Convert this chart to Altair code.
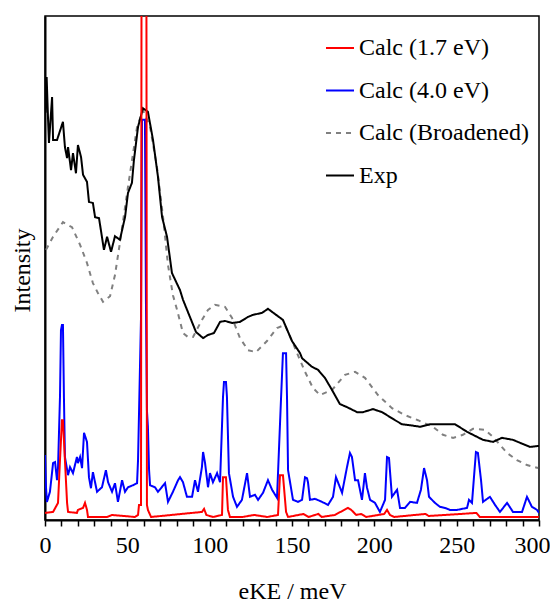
import altair as alt
import pandas as pd

# ---------------- data ----------------
exp_x = [0.3, 1.0, 1.8, 2.4, 4.3, 4.9, 7.3, 10.9, 12.1, 13.4, 14.0, 15.8, 17.0, 18.8, 20.0,
         21.9, 23.1, 25.5, 26.7, 29.1, 30.4, 32.8, 35.8, 37.7, 40.1, 42.5, 45.5, 48.6, 50.4,
         52.8, 54.0, 56.5, 59.5, 62.5, 65.6, 68.6, 71.1, 74.1, 77.1, 82.0, 83.8, 91.7, 96.0,
         99.0, 102.6, 106.3, 109.3, 113.6, 118.4, 123.3, 126.3, 131.8, 135.4, 144.5, 150.0,
         154.9, 156.1, 162.1, 165.8, 170.0, 174.3, 179.1, 183.4, 189.5, 193.1, 199.2, 204.7,
         212.6, 216.8, 221.7, 227.8, 233.9, 249.0, 256.3, 266.0, 272.1, 277.5, 284.2, 294.5, 300.0]
exp_y = [80.8, 87.9, 80.0, 74.8, 83.9, 75.4, 75.4, 79.0, 74.0, 71.8, 74.0, 69.4, 72.8, 68.8, 74.4,
         72.0, 68.5, 67.1, 63.1, 62.9, 60.1, 59.9, 53.6, 56.2, 53.2, 56.3, 55.6, 60.1, 64.9,
         66.9, 71.4, 78.0, 81.7, 81.0, 75.4, 68.1, 60.1, 56.2, 49.0, 45.6, 43.7, 37.3, 36.1,
         36.7, 37.1, 39.3, 39.5, 39.1, 39.3, 40.3, 40.7, 41.1, 41.9, 39.7, 35.5,
         33.1, 32.1, 30.4, 29.8, 28.2, 25.8, 23.0, 22.4, 21.4, 21.4, 22.0, 21.4,
         19.8, 19.0, 18.8, 18.5, 19.0, 19.0, 17.5, 15.9, 15.5, 16.3, 15.9, 14.5, 14.7]

brd_x = [0.6, 4.9, 10.9, 16.4, 21.3, 25.5, 29.1, 32.2, 35.2, 39.5, 42.5, 45.5, 50.4, 55.9, 59.5,
         63.8, 68.0, 71.7, 74.7, 77.7, 80.2, 83.8, 86.8, 89.9, 95.3, 99.0, 103.2, 109.3, 113.6,
         118.4, 123.3, 128.1, 134.8, 140.9, 145.7, 150.6, 153.6, 157.9, 162.7, 167.0, 174.3,
         182.2, 188.3, 194.3, 202.2, 210.7, 218.6, 226.5, 235.6, 241.7, 247.8, 253.8, 259.9,
         267.2, 272.1, 280.6, 286.6, 292.7, 299.4]
brd_y = [53.6, 56.2, 59.1, 58.1, 54.6, 51.0, 47.0, 45.0, 43.3, 44.4, 48.6, 55.0, 66.1, 78.0, 81.3,
         78.0, 70.0, 60.1, 50.6, 44.6, 41.7, 37.1, 36.3, 36.3, 39.7, 41.7, 42.7, 42.3, 40.1,
         36.1, 33.7, 33.3, 35.5, 38.1, 38.7, 35.1, 32.7, 29.4, 26.2, 24.8, 25.8,
         28.8, 29.4, 28.2, 24.8, 22.2, 20.8, 19.8, 18.5, 16.9, 16.3, 16.9, 18.1,
         17.9, 16.5, 13.3, 11.9, 10.9, 10.3]

blue_x = [0.0, 0.6, 1.2, 3.0, 4.9, 6.1, 7.3, 7.9, 9.1, 9.7, 10.3, 10.9, 11.5, 12.1, 14.0, 15.2,
          17.0, 19.4, 20.0, 21.3, 22.5, 23.7, 25.5, 26.7, 27.9, 29.1, 31.6, 34.6, 37.0, 38.3,
          40.7, 42.5, 44.3, 46.8, 48.6, 50.4, 53.4, 55.9, 56.5, 58.3, 58.9, 60.7, 61.3, 61.9,
          62.5, 63.2, 63.8, 66.8, 68.6, 72.9, 74.7, 77.7, 80.8, 82.0, 83.8, 86.2, 89.3, 91.1,
          92.9, 95.3, 96.0, 97.2, 99.0, 100.2, 102.0, 104.5, 106.3, 108.1, 108.7, 109.9, 110.5,
          111.7, 114.2, 116.6, 119.6, 122.7, 124.5, 127.5, 129.4, 132.4, 135.4, 137.9, 140.9,
          143.3, 144.5, 146.4, 147.0, 147.6, 150.6, 153.6, 156.1, 157.9, 159.1, 159.7, 160.9,
          164.0, 168.2, 171.9, 174.9, 176.7, 177.9, 180.4, 183.4, 185.2, 186.4, 188.3, 190.1,
          192.5, 194.3, 195.5, 197.4, 200.4, 203.4, 206.5, 207.7, 208.9, 210.7, 213.8, 215.6,
          218.6, 221.7, 225.9, 228.3, 230.2, 232.0, 233.2, 236.8, 239.9, 242.9, 245.9, 250.2,
          256.3, 257.5, 259.3, 261.7, 262.9, 264.8, 266.0, 270.2, 273.3, 276.3, 280.6, 284.2,
          289.7, 292.7, 295.7, 298.8, 300.0]
blue_y = [12.9, 6.5, 3.6, 5.6, 11.3, 11.5, 7.9, 10.3, 24.4, 37.7, 38.7, 38.7, 24.4, 12.5, 8.9, 10.5,
          9.3, 12.5, 11.3, 12.5, 10.3, 17.3, 15.5, 8.5, 6.3, 9.5, 5.6, 6.5, 9.9, 7.5,
          5.6, 7.3, 3.6, 7.9, 5.6, 6.5, 6.9, 7.3, 11.9, 40.0, 79.4, 79.4, 43.6, 21.8,
          18.5, 9.9, 6.9, 6.5, 5.6, 7.3, 3.6, 5.6, 7.9, 8.5, 7.5, 4.6, 4.6, 7.9,
          5.6, 10.5, 13.5, 11.3, 6.5, 9.3, 7.5, 9.3, 7.5, 24.4, 27.4, 27.4, 24.4,
          9.3, 4.6, 2.6, 4.0, 9.3, 4.6, 5.0, 4.0, 5.4, 7.9, 6.0, 4.4,
          23.8, 33.1, 33.1, 23.8, 9.9, 4.0, 3.6, 4.0, 8.5, 8.3, 7.5, 4.0,
          4.2, 3.6, 3.0, 4.6, 8.5, 7.5, 5.4, 10.5, 13.3, 12.5, 7.9, 7.9,
          4.0, 9.3, 6.5, 4.0, 3.4, 1.6, 4.0, 12.5, 12.3, 4.6, 6.0, 2.4,
          2.4, 3.6, 3.4, 6.0, 10.3, 7.9, 4.6, 3.4, 2.6, 2.4, 2.0, 2.0,
          2.4, 4.0, 3.4, 13.5, 13.3, 7.9, 3.6, 4.6, 3.0, 1.6, 3.4, 1.6,
          1.6, 4.6, 2.6, 2.0, 1.4]

red_x = [0.0, 4.9, 7.9, 9.1, 10.3, 10.9, 12.1, 13.4, 14.0, 19.4, 20.0, 23.1, 24.3, 25.5, 26.1,
         37.7, 40.7, 54.6, 56.5, 57.1, 58.3, 58.9, 61.3, 61.9, 62.5, 64.4, 95.3, 96.6, 98.0,
         102.0, 107.5, 108.1, 109.9, 111.1, 112.3, 120.0, 127.0, 135.0, 141.5, 142.7, 144.5,
         146.4, 147.6, 157.0, 160.0, 166.0, 168.0, 176.0, 184.0, 186.0, 189.0, 192.0, 195.0,
         206.0, 207.7, 209.5, 212.0, 231.0, 233.0, 262.0, 264.0, 300.0]
red_y = [1.4, 1.6, 3.4, 11.9, 19.8, 19.8, 11.9, 3.4, 1.6, 1.4, 2.0, 2.4, 3.4, 2.0, 0.6,
         0.6, 1.0, 0.6, 1.0, 3.0, 3.0, 200.0, 200.0, 3.0, 2.0, 0.6, 1.6, 2.2, 1.0,
         0.6, 1.0, 8.5, 8.5, 2.0, 0.6, 0.6, 1.0, 0.6, 1.0, 8.9, 8.9,
         1.6, 0.6, 1.2, 0.6, 1.2, 0.6, 1.0, 2.4, 2.0, 1.0, 1.2, 0.6,
         1.2, 2.0, 1.0, 0.6, 1.2, 0.8, 1.4, 0.6, 0.6]

SERIES = ["Calc (1.7 eV)", "Calc (4.0 eV)", "Calc (Broadened)", "Exp"]
COLORS = ["#ff0000", "#0000ff", "#808080", "#000000"]
DASHES = [[1, 0], [1, 0], [5, 5], [1, 0]]
X_TICKS = list(range(0, 301, 10))

FONT = "'Liberation Serif', 'Times New Roman', Times, serif"


def frame(name, xs, ys):
    return pd.DataFrame({"eKE": xs, "I": ys, "series": name})


x_enc = alt.X(
    "eKE:Q",
    scale=alt.Scale(domain=[0, 300], nice=False, zero=False),
    axis=alt.Axis(
        title="eKE / meV",
        values=X_TICKS,
        labelExpr="datum.value % 50 == 0 ? datum.label : ''",
        labelOverlap=False,
        labelFlush=False,
        labelOffset={"condition": {"test": "datum.value == 300", "value": -7}, "value": 0},
        grid=False,
        tickSize=6,
        tickWidth=1.5,
        labelPadding=26,
        labelBaseline="alphabetic",
        titleBaseline="alphabetic",
        titleY=78,
    ),
)
y_enc = alt.Y(
    "I:Q",
    scale=alt.Scale(domain=[0, 100], nice=False),
    axis=alt.Axis(
        title="Intensity",
        labels=False,
        ticks=False,
        grid=False,
        titleX=-23,
        titleY=254,
        titleBaseline="middle",
        titleAngle=270,
    ),
)
color_enc = alt.Color(
    "series:N",
    scale=alt.Scale(domain=SERIES, range=COLORS),
    legend=alt.Legend(title=None, orient="none", legendX=280, legendY=17),
)
dash_enc = alt.StrokeDash(
    "series:N",
    scale=alt.Scale(domain=SERIES, range=DASHES),
    legend=alt.Legend(title=None, orient="none", legendX=280, legendY=17),
)


def layer(df):
    return alt.Chart(df).mark_line(strokeWidth=2, clip=True).encode(
        x=x_enc, y=y_enc, color=color_enc, strokeDash=dash_enc
    )


chart = alt.layer(
    layer(frame("Calc (Broadened)", brd_x, brd_y)),
    layer(frame("Exp", exp_x, exp_y)),
    layer(frame("Calc (4.0 eV)", blue_x, blue_y)),
    layer(frame("Calc (1.7 eV)", red_x, red_y)),
).properties(
    width=494,
    height=504,
    autosize=alt.AutoSizeParams(type="none"),
    padding={"left": 37, "top": 8, "right": 11, "bottom": 86},
).configure_view(
    stroke="black", strokeWidth=1.5
).configure_axis(
    domainColor="black",
    domainWidth=2,
    tickColor="black",
    labelColor="black",
    titleColor="black",
    labelFont=FONT,
    titleFont=FONT,
    labelFontSize=24,
    titleFontSize=24,
    titleFontWeight="normal",
).configure_legend(
    labelFont=FONT,
    labelFontSize=24,
    labelColor="black",
    labelLimit=400,
    symbolType="stroke",
    symbolSize=784,
    symbolStrokeWidth=2,
    labelOffset=4,
    rowPadding=15.5,
    padding=0,
)

chart.save("out.html", embed_options={"renderer": "svg", "actions": False})
